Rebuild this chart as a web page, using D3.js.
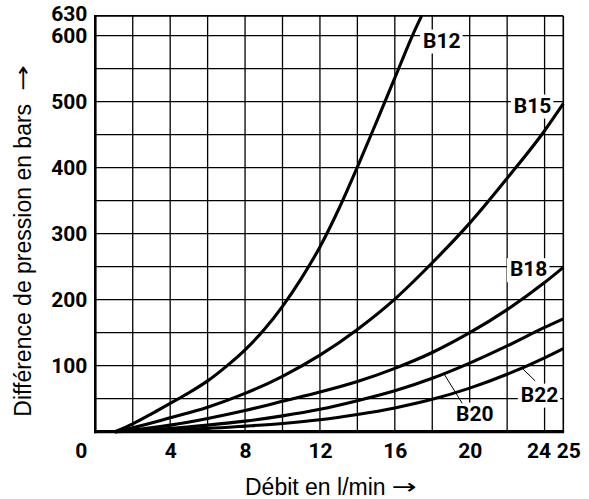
<!DOCTYPE html>
<html><head><meta charset="utf-8">
<script src="https://cdn.jsdelivr.net/npm/d3@7"></script>
<style>
html,body{margin:0;padding:0;background:#fff;}
svg{display:block;}
</style></head>
<body>
<svg id="chart" width="589" height="499"></svg>
<script>
// ---- data ----
const xTicks = [0, 4, 8, 12, 16, 20, 24, 25];
const yTicks = [100, 200, 300, 400, 500, 600, 630];
const seriesNames = ["B12", "B15", "B18", "B20", "B22"];
const b12Flow = [1.05, 2, 3, 4, 5, 6, 7, 8, 9, 10, 11, 12, 13, 14, 15, 16, 17, 17.43];
const b12Press = [0, 12, 27, 43, 59, 77, 99, 124, 154, 190, 232, 280, 337, 401, 468, 536, 604, 630];
const b15Flow = [1.05, 2, 4, 6, 8, 10, 12, 14, 16, 18, 20, 22, 24, 25];
const b15Press = [0, 6, 21, 37, 58, 84, 116, 155, 201, 256, 316, 384, 456, 497];
const b18Flow = [1.05, 2, 4, 6, 8, 10, 12, 14, 16, 18, 20, 22, 24, 25];
const b18Press = [0, 2.5, 10, 20, 32, 46, 60, 76, 96, 120, 150, 185, 226, 249];
const b20Flow = [1.05, 2, 4, 6, 8, 10, 12, 14, 16, 18, 20, 22, 24, 25];
const b20Press = [0, 1.5, 5, 10, 16, 24, 34, 47, 62, 81, 104, 130, 158, 171];
const b22Flow = [1.05, 2, 4, 6, 8, 10, 12, 14, 16, 18, 20, 22, 24, 25];
const b22Press = [0, 0.8, 3, 5, 8.5, 12.5, 18, 26, 36, 49, 66, 87, 112, 126];

const xTitle = "Débit en l/min";
const yTitle = "Différence de pression en bars";
const arrowGlyph = "→";

// ---- layout ----
const svg = d3.select("#chart");
const x = d3.scaleLinear().domain([0, 25]).range([95.3, 563.3]);
const y = d3.scaleLinear().domain([0, 630]).range([431.7, 15.9]);

const series = [
  {name: "B12", q: b12Flow, p: b12Press},
  {name: "B15", q: b15Flow, p: b15Press},
  {name: "B18", q: b18Flow, p: b18Press},
  {name: "B20", q: b20Flow, p: b20Press},
  {name: "B22", q: b22Flow, p: b22Press}
];

// grid
const gx = d3.range(0, 25, 2).concat([25]);
const gy = d3.range(0, 601, 50).concat([630]);
const grid = svg.append("g");
grid.selectAll("line.v").data(gx).join("line")
  .attr("x1", d => x(d)).attr("x2", d => x(d))
  .attr("y1", y(0)).attr("y2", y(630))
  .attr("stroke", "#000").attr("stroke-width", d => d === 25 ? 1.6 : 1.3);
grid.selectAll("line.h").data(gy).join("line")
  .attr("y1", d => y(d)).attr("y2", d => y(d))
  .attr("x1", x(0)).attr("x2", x(25))
  .attr("stroke", "#000").attr("stroke-width", d => d === 630 ? 1.6 : 1.3);

// label placements (data coordinates)
const labelPos = {
  B12: {q: 18.51, p: 593.5},
  B15: {q: 23.36, p: 495},
  B18: {q: 23.15, p: 247},
  B20: {q: 20.27, p: 28.3, toAxis: true},
  B22: {q: 23.73, p: 57}
};
const leaders = {
  B20: [[19.6, 43], [18.62, 88]],
  B22: [[23.5, 77], [22.84, 95]]
};

const boxG = svg.append("g");
const curveG = svg.append("g");
const axisG = svg.append("g");
const labelG = svg.append("g");

// curves
const line = d3.line().curve(d3.curveMonotoneX)
  .x(d => x(d[0])).y(d => y(d[1]));
curveG.selectAll("path").data(series).join("path")
  .attr("d", s => line(s.q.map((q, i) => [q, s.p[i]])))
  .attr("fill", "none").attr("stroke", "#000").attr("stroke-width", 3.1)
  .attr("stroke-linecap", "butt");

// axes frame lines
axisG.append("line").attr("x1", x(0)).attr("x2", x(0)).attr("y1", y(630) - 0.8).attr("y2", y(0) + 1.5)
  .attr("stroke", "#000").attr("stroke-width", 2.6);
axisG.append("line").attr("x1", x(0) - 1.3).attr("x2", x(25) + 0.8).attr("y1", y(0)).attr("y2", y(0))
  .attr("stroke", "#000").attr("stroke-width", 3.2);

// tick labels via d3 axes
const tickFont = "Roboto, 'Liberation Sans', sans-serif";
const xAxis = d3.axisBottom(x).tickValues(xTicks).tickSize(0).tickPadding(11.7).tickFormat(d3.format("d"));
const xa = svg.append("g").attr("transform", `translate(0,${y(0)})`).call(xAxis);
xa.select(".domain").remove();
xa.selectAll("text")
  .attr("font-family", tickFont)
  .attr("font-weight", "bold").attr("font-size", 21).attr("fill", "#000")
  .attr("dx", d => d === 0 ? -14.5 : d === 24 ? -6 : d === 25 ? 5 : 0);

const yAxis = d3.axisLeft(y).tickValues(yTicks).tickSize(0).tickPadding(8).tickFormat(d3.format("d"));
const ya = svg.append("g").attr("transform", `translate(${x(0)},0)`).call(yAxis);
ya.select(".domain").remove();
ya.selectAll("text")
  .attr("font-family", tickFont)
  .attr("font-weight", "bold").attr("font-size", 21).attr("fill", "#000")
  .attr("dy", d => d === 630 ? "0.2em" : "0.34em");

// curve labels with white boxes
seriesNames.forEach(name => {
  const lp = labelPos[name];
  const t = labelG.append("text")
    .attr("x", x(lp.q)).attr("y", y(lp.p))
    .attr("text-anchor", "middle").attr("dy", "0.36em")
    .attr("font-family", tickFont)
    .attr("font-weight", "bold").attr("font-size", 21).attr("fill", "#000")
    .text(name);
  const bb = t.node().getBBox();
  const top = bb.y + 1;
  const bottom = lp.toAxis ? y(0) : bb.y + bb.height + 1;
  boxG.append("rect")
    .attr("x", bb.x - 3).attr("y", top)
    .attr("width", bb.width + 5).attr("height", bottom - top)
    .attr("fill", "#fff");
});

// leader lines
Object.keys(leaders).forEach(k => {
  const [a, b] = leaders[k];
  labelG.append("line")
    .attr("x1", x(a[0])).attr("y1", y(a[1]))
    .attr("x2", x(b[0])).attr("y2", y(b[1]))
    .attr("stroke", "#000").attr("stroke-width", 1);
});

// axis titles
const titleFont = "'Liberation Sans', Arial, sans-serif";
const xt = svg.append("text")
  .attr("x", 245).attr("y", 495)
  .attr("font-family", titleFont)
  .attr("font-size", 23).attr("fill", "#000")
  .text(xTitle);
const xEnd = 245 + xt.node().getComputedTextLength();
svg.append("text")
  .attr("x", xEnd + 6).attr("y", 494)
  .attr("font-family", "'DejaVu Sans', sans-serif")
  .attr("font-size", 21).attr("fill", "#000")
  .attr("textLength", 25).attr("lengthAdjust", "spacingAndGlyphs")
  .text(arrowGlyph);

const yt = svg.append("text")
  .attr("transform", "translate(31,416.7) rotate(-90)")
  .attr("font-family", titleFont)
  .attr("font-size", 23).attr("fill", "#000")
  .text(yTitle);
const yLen = yt.node().getComputedTextLength();
svg.append("text")
  .attr("transform", `translate(30,${416.7 - yLen - 13}) rotate(-90)`)
  .attr("font-family", "'DejaVu Sans', sans-serif")
  .attr("font-size", 21).attr("fill", "#000")
  .attr("textLength", 26).attr("lengthAdjust", "spacingAndGlyphs")
  .text(arrowGlyph);
</script>
</body></html>
